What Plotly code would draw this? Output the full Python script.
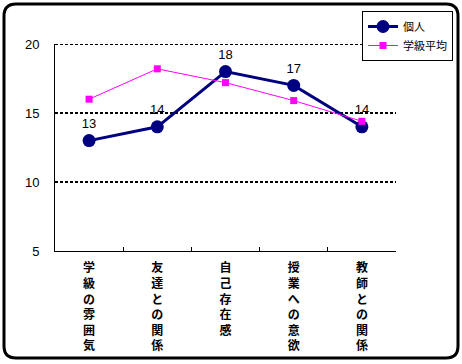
import plotly.graph_objects as go

categories = ["学級の雰囲気", "友達との関係", "自己存在感", "授業への意欲", "教師との関係"]
individual = [13, 14, 18, 17, 14]
class_avg = [16.0, 18.2, 17.2, 15.9, 14.4]
y_ticks = [5, 10, 15, 20]

W, H = 462, 364
L, R, T, B = 55, 66, 44, 113
PW, PH = W - L - R, H - T - B


def px(x):
    return (x - L) / PW


def py(y):
    return (H - B - y) / PH


tick_text = ["<br>".join(list(c)) for c in categories]

fig = go.Figure()
fig.add_trace(go.Scatter(
    x=categories, y=individual, name="個人",
    mode="lines+markers+text",
    text=[str(v) for v in individual], textposition="top center",
    textfont=dict(family="Liberation Sans", size=13, color="black"),
    line=dict(color="#000080", width=3),
    marker=dict(symbol="circle", size=13, color="#000080"),
    cliponaxis=False,
))
fig.add_trace(go.Scatter(
    x=categories, y=class_avg, name="学級平均",
    mode="lines+markers",
    line=dict(color="#FF00FF", width=1),
    marker=dict(symbol="square", size=7, color="#FF00FF"),
    cliponaxis=False,
))

# top gridline (at the edge of the plot area)
fig.add_shape(type="line", xref="paper", yref="y", x0=0, x1=1,
              y0=max(y_ticks), y1=max(y_ticks),
              line=dict(color="black", width=2, dash="3px,2px"), layer="below")

# rounded border
x0, x1, y0, y1, r = 4, 458, 4, 358, 12
path = (
    f"M {px(x0 + r)},{py(y0)} L {px(x1 - r)},{py(y0)} "
    f"Q {px(x1)},{py(y0)} {px(x1)},{py(y0 + r)} "
    f"L {px(x1)},{py(y1 - r)} Q {px(x1)},{py(y1)} {px(x1 - r)},{py(y1)} "
    f"L {px(x0 + r)},{py(y1)} Q {px(x0)},{py(y1)} {px(x0)},{py(y1 - r)} "
    f"L {px(x0)},{py(y0 + r)} Q {px(x0)},{py(y0)} {px(x0 + r)},{py(y0)} Z"
)
fig.add_shape(type="path", path=path, xref="paper", yref="paper",
              line=dict(color="black", width=3), layer="above")

fig.update_layout(
    width=W, height=H,
    margin=dict(l=L, r=R, t=T, b=B, autoexpand=False),
    paper_bgcolor="white", plot_bgcolor="white",
    font=dict(family="Liberation Sans", color="black", size=13),
    showlegend=True,
    legend=dict(
        x=px(453), y=py(11), xanchor="right", yanchor="top",
        bordercolor="black", borderwidth=1, bgcolor="white",
        font=dict(family="Noto Sans CJK JP", size=11, color="black"),
        tracegroupgap=0, itemwidth=30,
    ),
    xaxis=dict(
        type="category", range=[-0.5, 4.5],
        tickmode="array", tickvals=categories, ticktext=tick_text,
        showline=True, linecolor="black", linewidth=1,
        ticks="inside", tickson="boundaries", ticklen=4, tickcolor="black",
        showgrid=False, ticklabelstandoff=6,
        tickfont=dict(family="Noto Sans CJK JP", size=12, color="black", weight="bold"),
        fixedrange=True,
    ),
    yaxis=dict(
        range=[5, 20], tickvals=y_ticks,
        showline=True, linecolor="black", linewidth=1,
        showgrid=True, gridcolor="black", gridwidth=2, griddash="3px,2px",
        zeroline=False, ticks="", ticklabelstandoff=12,
        tickfont=dict(family="Liberation Sans", size=13, color="black"),
    ),
)

fig.write_html("out.html", config={"displayModeBar": False},
               post_script="document.body.style.margin='0';")
